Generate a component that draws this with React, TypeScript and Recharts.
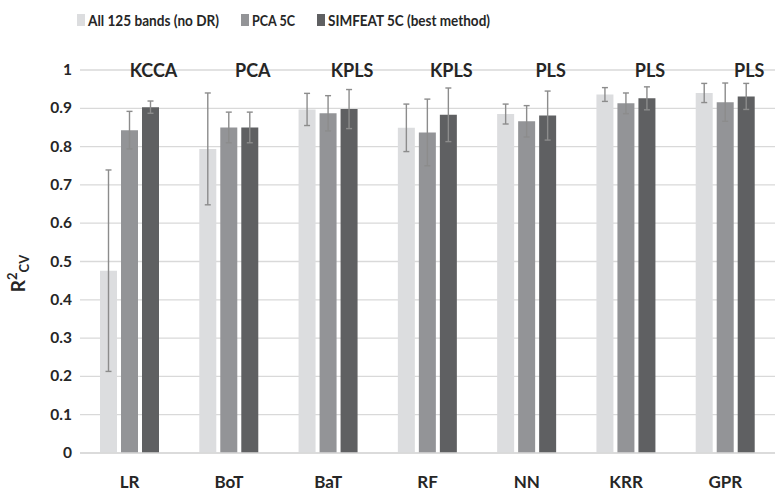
import React from 'react';
import { BarChart, Bar, XAxis, YAxis, CartesianGrid, ErrorBar, LabelList } from 'recharts';

const categories = ['LR', 'BoT', 'BaT', 'RF', 'NN', 'KRR', 'GPR'];
const allBands = [0.476, 0.794, 0.897, 0.849, 0.885, 0.936, 0.94];
const allBandsErr = [0.263, 0.146, 0.042, 0.062, 0.026, 0.018, 0.025];
const pca5c = [0.843, 0.85, 0.887, 0.837, 0.866, 0.913, 0.916];
const pca5cErr = [0.049, 0.04, 0.046, 0.087, 0.041, 0.027, 0.05];
const simfeat5c = [0.903, 0.85, 0.898, 0.883, 0.881, 0.926, 0.931];
const simfeat5cErr = [0.016, 0.04, 0.051, 0.07, 0.064, 0.03, 0.034];
const bestMethod = ['KCCA', 'PCA', 'KPLS', 'KPLS', 'PLS', 'PLS', 'PLS'];
const yTicks = [0, 0.1, 0.2, 0.3, 0.4, 0.5, 0.6, 0.7, 0.8, 0.9, 1];

const seriesNames = ['All 125 bands (no DR)', 'PCA 5C', 'SIMFEAT 5C (best method)'];
const colors = ['#dcdddf', '#939497', '#5f6062'];

const data = categories.map((c, i) => ({
  name: c,
  all: allBands[i],
  allErr: allBandsErr[i],
  pca: pca5c[i],
  pcaErr: pca5cErr[i],
  sim: simfeat5c[i],
  simErr: simfeat5cErr[i],
  best: bestMethod[i],
}));

const FONT = 'Lato, "Noto Sans", sans-serif';
const TEXT = '#262626';
const ERR = '#8c8c8c';

const MethodLabel = (props: any) => {
  const { x, y, width, height, index } = props;
  const bottom = y + height;
  const v = simfeat5c[index];
  const yOne = bottom - height / v;
  return (
    <text
      x={x + width / 2 + 3}
      y={yOne + 7}
      textAnchor="middle"
      fontFamily={FONT}
      fontWeight={700}
      fontSize={18}
      fill={TEXT}
    >
      {bestMethod[index]}
    </text>
  );
};

const XTick = (props: any) => {
  const { x, y, payload } = props;
  return (
    <text x={x} y={y + 27} textAnchor="middle" fontFamily={FONT} fontWeight={700} fontSize={17} fill={TEXT}>
      {payload.value}
    </text>
  );
};

const YTick = (props: any) => {
  const { x, y, payload } = props;
  return (
    <text x={x} y={y + 5} textAnchor="end" fontFamily={FONT} fontWeight={700} fontSize={15.5} fill={TEXT}>
      {String(payload.value)}
    </text>
  );
};

const YLabel = (props: any) => {
  const vb = props.viewBox || {};
  const cx = 25;
  const cy = vb.y + vb.height / 2 + 12;
  return (
    <text
      transform={`translate(${cx},${cy}) rotate(-90)`}
      textAnchor="middle"
      fontFamily={FONT}
      fontWeight={700}
      fontSize={19}
      fill={TEXT}
    >
      <tspan>R</tspan>
      <tspan fontSize={13} dy={-8}>2</tspan>
      <tspan fontSize={13} dy={12}>CV</tspan>
    </text>
  );
};

const legendLefts = [77, 241, 317];
const legendTextWidths = [131, 43, 162];

export default function App() {
  return (
    <div style={{ position: 'absolute', left: 0, top: 0, width: 777, height: 494, background: '#fff' }}>
      <svg width={777} height={40} style={{ position: 'absolute', left: 0, top: 0 }}>
        {seriesNames.map((n, i) => (
          <g key={n}>
            <rect x={legendLefts[i]} y={14} width={8} height={12} fill={colors[i]} />
            <text
              x={legendLefts[i] + 11}
              y={26}
              fontFamily={FONT}
              fontWeight={700}
              fontSize={16}
              fill={TEXT}
              textLength={legendTextWidths[i]}
              lengthAdjust="spacingAndGlyphs"
            >
              {n}
            </text>
          </g>
        ))}
      </svg>
      <BarChart
        width={777}
        height={494}
        data={data}
        margin={{ top: 70, right: 2, left: 0, bottom: 0 }}
        barSize={17}
        barGap={4}
      >
        <CartesianGrid vertical={false} stroke="#d9d9d9" strokeWidth={1.3} />
        <XAxis
          dataKey="name"
          height={41}
          axisLine={{ stroke: '#d9d9d9', strokeWidth: 1.5 }}
          tickLine={false}
          tick={<XTick />}
          interval={0}
        />
        <YAxis
          width={80}
          domain={[0, 1]}
          ticks={yTicks}
          axisLine={false}
          tickLine={false}
          tick={<YTick />}
          label={<YLabel />}
          interval={0}
        />
        <Bar dataKey="all" name={seriesNames[0]} fill={colors[0]} isAnimationActive={false}>
          <ErrorBar dataKey="allErr" width={3} stroke={ERR} strokeWidth={1.4} direction="y" />
        </Bar>
        <Bar dataKey="pca" name={seriesNames[1]} fill={colors[1]} isAnimationActive={false}>
          <ErrorBar dataKey="pcaErr" width={3} stroke={ERR} strokeWidth={1.4} direction="y" />
        </Bar>
        <Bar dataKey="sim" name={seriesNames[2]} fill={colors[2]} isAnimationActive={false}>
          <ErrorBar dataKey="simErr" width={3} stroke={ERR} strokeWidth={1.4} direction="y" />
          <LabelList dataKey="best" content={<MethodLabel />} />
        </Bar>
      </BarChart>
    </div>
  );
}
